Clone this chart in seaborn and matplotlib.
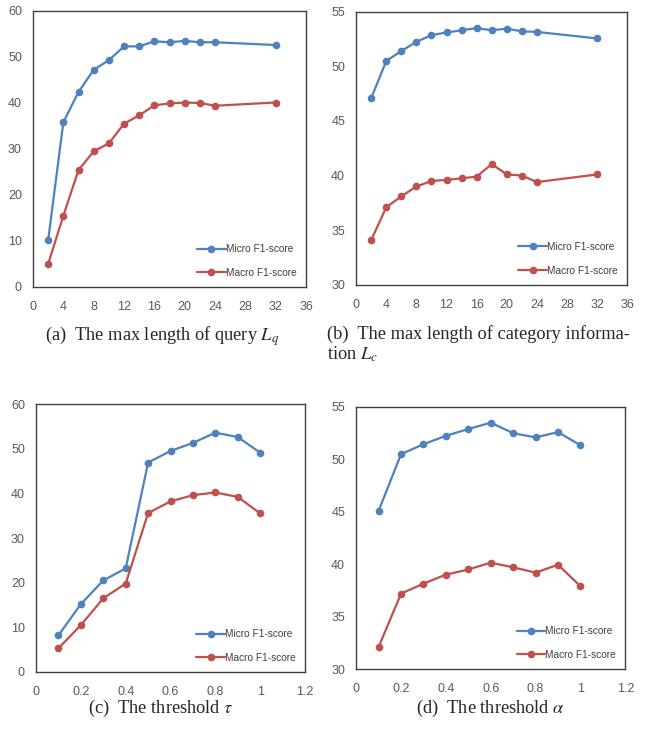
import matplotlib
matplotlib.use("Agg")
import matplotlib.pyplot as plt
import seaborn as sns
import pandas as pd

# ---- data ----
len_x = [2, 4, 6, 8, 10, 12, 14, 16, 18, 20, 22, 24, 32]
a_micro = [10.2, 35.8, 42.4, 47.2, 49.3, 52.3, 52.3, 53.4, 53.2, 53.5, 53.2, 53.2, 52.6]
a_macro = [5.0, 15.5, 25.4, 29.5, 31.2, 35.5, 37.3, 39.5, 39.9, 40.1, 40.0, 39.4, 40.1]
b_micro = [47.1, 50.5, 51.4, 52.25, 52.85, 53.1, 53.3, 53.5, 53.3, 53.45, 53.2, 53.15, 52.55]
b_macro = [34.1, 37.1, 38.1, 39.0, 39.5, 39.6, 39.75, 39.9, 41.05, 40.1, 40.0, 39.4, 40.1]
thr_x = [0.1, 0.2, 0.3, 0.4, 0.5, 0.6, 0.7, 0.8, 0.9, 1.0]
c_micro = [8.2, 15.2, 20.5, 23.2, 46.9, 49.5, 51.3, 53.6, 52.6, 49.1]
c_macro = [5.3, 10.5, 16.5, 19.8, 35.6, 38.2, 39.6, 40.2, 39.2, 35.5]
d_micro = [45.1, 50.5, 51.45, 52.25, 52.9, 53.5, 52.5, 52.1, 52.6, 51.35]
d_macro = [32.1, 37.2, 38.15, 39.0, 39.5, 40.15, 39.7, 39.2, 39.95, 37.9]
series_names = ["Micro F1-score", "Macro F1-score"]
len_ticks = [0, 4, 8, 12, 16, 20, 24, 28, 32, 36]
thr_ticks = [0, 0.2, 0.4, 0.6, 0.8, 1.0, 1.2]
thr_ticklabels = ["0", "0.2", "0.4", "0.6", "0.8", "1", "1.2"]
cap_a = r"(a)  The max length of query $L_q$"
cap_b1 = "(b)  The max length of category informa-"
cap_b2 = r"tion $L_c$"
cap_c = r"(c)  The threshold $\tau$"
cap_d = r"(d)  The threshold $\alpha$"

sns.set_style("white")
plt.rcParams['font.family'] = ['Liberation Sans', 'DejaVu Sans']
plt.rcParams['mathtext.fontset'] = 'stix'

BLUE = "#4F81BD"
RED = "#C0504D"
GREY = "#595959"

fig = plt.figure(figsize=(6.5, 7.32), dpi=100)

panels = [
    ([0.0508, 0.608, 0.420, 0.377], len_x, a_micro, a_macro, (0, 60), 10, (0, 36), len_ticks, None),
    ([0.548, 0.611, 0.417, 0.373], len_x, b_micro, b_macro, (30, 55), 5, (0, 36), len_ticks, None),
    ([0.0554, 0.082, 0.414, 0.366], thr_x, c_micro, c_macro, (0, 60), 10, (0, 1.2), thr_ticks, thr_ticklabels),
    ([0.548, 0.086, 0.414, 0.358], thr_x, d_micro, d_macro, (30, 55), 5, (0, 1.2), thr_ticks, thr_ticklabels),
]

for rect, xs, mic, mac, ylim, ystep, xlim, xt, xtl in panels:
    ax = fig.add_axes(rect)
    df = pd.DataFrame({"x": xs * 2,
                       "y": list(mic) + list(mac),
                       "s": [series_names[0]] * len(xs) + [series_names[1]] * len(xs)})
    sns.lineplot(data=df, x="x", y="y", hue="s", palette=[BLUE, RED],
                 marker="o", markersize=5.5, markeredgewidth=0, linewidth=1.6,
                 ax=ax)
    ax.set_xlim(*xlim)
    ax.set_ylim(*ylim)
    ax.set_xticks(xt)
    ax.set_xticklabels(xtl if xtl else [str(v) for v in xt])
    ax.set_yticks(list(range(ylim[0], ylim[1] + 1, ystep)))
    ax.set_xlabel("")
    ax.set_ylabel("")
    for sp in ax.spines.values():
        sp.set_color("#404040")
        sp.set_linewidth(1.0)
    ax.tick_params(axis="both", direction="out", length=4, width=1,
                   color="#404040", labelcolor=GREY, labelsize=9, pad=4)
    ax.tick_params(axis="x", pad=6)
    handles, labels = ax.get_legend_handles_labels()
    ax.legend(handles, labels, loc="lower right", frameon=False,
              fontsize=7.3, handlelength=2.8, labelspacing=1.35,
              handletextpad=0.05, borderaxespad=0.5, labelcolor="#404040")

serif = ['Liberation Serif', 'DejaVu Serif']
fs = 13.2
fig.text(162 / 650, 1 - 341 / 732, cap_a, ha="center", va="baseline",
         fontsize=fs, family=serif)
fig.text(327 / 650, 1 - 339 / 732, cap_b1, ha="left", va="baseline",
         fontsize=fs, family=serif)
fig.text(327 / 650, 1 - 360 / 732, cap_b2, ha="left", va="baseline",
         fontsize=fs, family=serif)
fig.text(161 / 650, 1 - 713 / 732, cap_c, ha="center", va="baseline",
         fontsize=fs, family=serif)
fig.text(490 / 650, 1 - 713 / 732, cap_d, ha="center", va="baseline",
         fontsize=fs, family=serif)

fig.savefig("out.png", dpi=100)
